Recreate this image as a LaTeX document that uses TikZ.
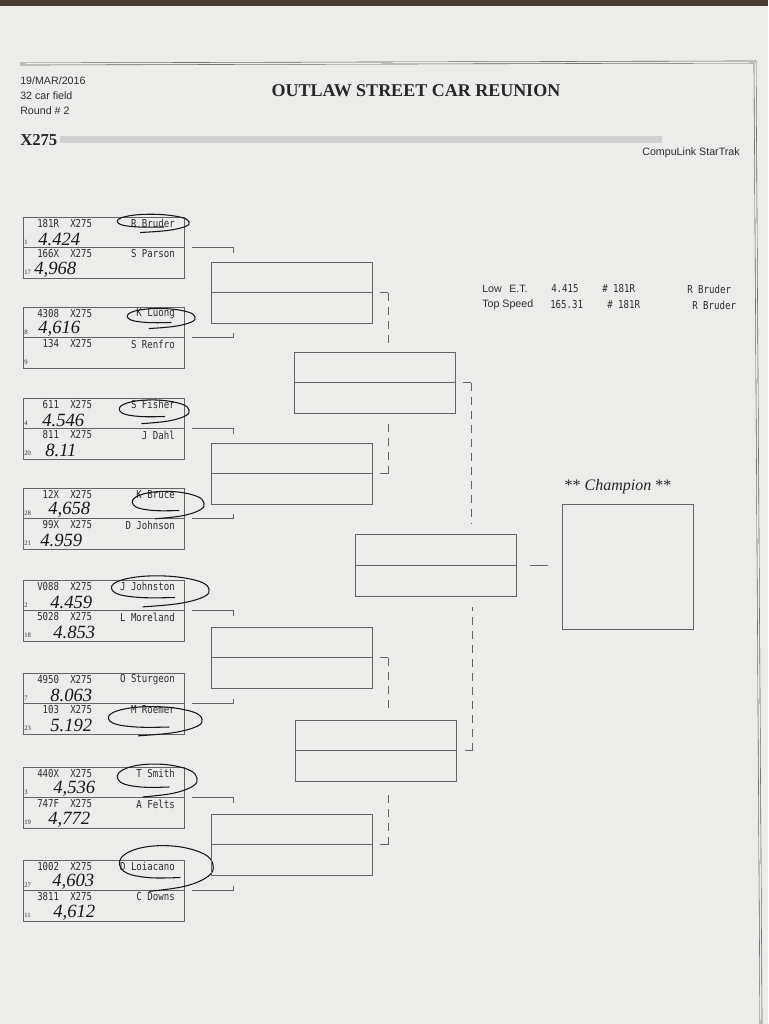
\documentclass[tikz,border=0pt]{standalone}
\usepackage{fontspec}
\setmainfont{Liberation Serif}
\setsansfont{Liberation Sans}
\newfontfamily\printfont[FakeStretch=0.83]{DejaVu Sans Mono}
\usepackage{tikz}
\usetikzlibrary{calc}
\definecolor{PaperGray}{RGB}{236,236,234}
\definecolor{PrintInk}{RGB}{45,45,45}
\definecolor{RuleGray}{RGB}{100,100,100}
\definecolor{PenInk}{RGB}{22,22,28}
\definecolor{Wood}{RGB}{72,58,48}

% one printed line of an entry: id, row top, car, driver, seed, time, time x
\newcommand{\racer}[7]{%
  \node[print,anchor=west] (car#1) at (37,#2+6.5) {#3};
  \node[print,anchor=west] (cls#1) at (70,#2+6.5) {X275};
  \node[print,anchor=east] (drv#1) at (175,#2+6.5) {#4};
  \node[seed] (seed#1) at (24,#2+25) {#5};
  \node[handtime] (et#1) at (#7,#2+22) {#6};
}
% pen loop round a winner
\newcommand{\winloop}[4]{%
  \draw[pen,shift={(#1,#2)},xscale=#3,yscale=#4] plot[smooth,tension=0.65] coordinates
    {(-0.35,1.05) (0.4,0.85) (0.9,0.45) (1.0,0.0) (0.8,-0.45) (0.2,-0.75) (-0.5,-0.7)
     (-0.95,-0.3) (-0.9,0.25) (-0.4,0.5) (0.3,0.5)};
}

\begin{document}
\begin{tikzpicture}[x=0.75pt,y=-0.75pt,
  rule/.style={draw=RuleGray,line width=0.55pt},
  frame/.style={draw=RuleGray,line width=0.45pt,double=PaperGray,double distance=1.1pt},
  dashlink/.style={rule,dash pattern=on 6pt off 4.5pt},
  entrybox/.style={rule,rectangle,inner sep=0pt,outer sep=0pt,anchor=north west,
    minimum width=120.75pt,minimum height=45.75pt},
  champbox/.style={rule,rectangle,inner sep=0pt,outer sep=0pt,anchor=north west,
    minimum width=98.25pt,minimum height=93.75pt},
  hdr/.style={font=\sffamily\fontsize{8}{9}\selectfont,text=PrintInk,inner sep=0pt},
  print/.style={font=\printfont\fontsize{8.2}{9}\selectfont,text=PrintInk,inner sep=0pt},
  seed/.style={font=\rmfamily\fontsize{5}{6}\selectfont,text=PrintInk,inner sep=0pt,anchor=west},
  handtime/.style={font=\rmfamily\itshape\fontsize{14}{14}\selectfont,text=PenInk,inner sep=0pt,anchor=west},
  pen/.style={draw=PenInk,line width=0.8pt,line cap=round,line join=round}]
  \useasboundingbox (0,0) rectangle (768,1024);
  \fill[PaperGray] (0,0) rectangle (768,1024);
  \fill[Wood] (0,0) rectangle (768,6);

  % page frame and header
  \draw[frame] (20,64) -- (755,62) -- (761,1024);
  \node[hdr,anchor=west] (date) at (20,81) {19/MAR/2016};
  \node[hdr,anchor=west] (field) at (20,96) {32 car field};
  \node[hdr,anchor=west] (round) at (20,111) {Round \# 2};
  \node[font=\rmfamily\bfseries\fontsize{13.5}{15}\selectfont,text=black!85] (title) at (416,91) {OUTLAW STREET CAR REUNION};
  \node[font=\rmfamily\bfseries\fontsize{12.5}{14}\selectfont,text=black!85,anchor=west,inner sep=0pt] (class) at (20,140) {X275};
  \fill[black!18] (60,136) rectangle (662,143);
  \node[hdr,anchor=east] (soft) at (740,153) {CompuLink StarTrak};

  % first round
  \node[entrybox] (b1) at (23,217) {};
  \node[entrybox] (b2) at (23,307) {};
  \node[entrybox] (b3) at (23,398) {};
  \node[entrybox] (b4) at (23,488) {};
  \node[entrybox] (b5) at (23,580) {};
  \node[entrybox] (b6) at (23,673) {};
  \node[entrybox] (b7) at (23,767) {};
  \node[entrybox] (b8) at (23,860) {};
  \foreach \b in {b1,b2,b3,b4,b5,b6,b7,b8}
    \draw[rule] (\b.west) -- (\b.east);

  \racer{1a}{217}{181R}{R Bruder}{1}{4.424}{38}
  \racer{1b}{247.5}{166X}{S Parson}{17}{4,968}{34}
  \racer{2a}{307}{4308}{K Luong}{8}{4,616}{38}
  \racer{2b}{337.5}{\phantom{0}134}{S Renfro}{9}{}{40}
  \racer{3a}{398}{\phantom{0}611}{S Fisher}{4}{4.546}{42}
  \racer{3b}{428.5}{\phantom{0}811}{J Dahl}{20}{8.11}{45}
  \racer{4a}{488}{\phantom{0}12X}{K Bruce}{28}{4,658}{48}
  \racer{4b}{518.5}{\phantom{0}99X}{D Johnson}{21}{4.959}{40}
  \racer{5a}{580}{V088}{J Johnston}{2}{4.459}{50}
  \racer{5b}{610.5}{5028}{L Moreland}{18}{4.853}{53}
  \racer{6a}{673}{4950}{O Sturgeon}{7}{8.063}{50}
  \racer{6b}{703.5}{\phantom{0}103}{M Roemer}{23}{5.192}{50}
  \racer{7a}{767}{440X}{T Smith}{3}{4,536}{53}
  \racer{7b}{797.5}{747F}{A Felts}{19}{4,772}{48}
  \racer{8a}{860}{1002}{D Loiacano}{27}{4,603}{52}
  \racer{8b}{890.5}{3811}{C Downs}{11}{4,612}{53}

  % winners circled
  \winloop{153}{222}{36}{10}
  \winloop{161}{317}{34}{11}
  \winloop{154}{410}{35}{13}
  \winloop{168}{503}{36}{15}
  \winloop{160}{589}{49}{17}
  \winloop{155}{719}{47}{16}
  \winloop{157}{778}{40}{18}
  \winloop{166}{865}{47}{25}

  % first round brackets
  \foreach \b in {b1,b3,b5,b7}
    \draw[rule] ($(\b.east)+(8,0)$) -- ++(41,0) -- ++(0,5);
  \foreach \b in {b2,b4,b6,b8}
    \draw[rule] ($(\b.east)+(8,0)$) -- ++(41,0) -- ++(0,-5);

  % second round
  \node[entrybox] (q1) at (211,262) {};
  \node[entrybox] (q2) at (211,443) {};
  \node[entrybox] (q3) at (211,627) {};
  \node[entrybox] (q4) at (211,814) {};
  \foreach \q in {q1,q2,q3,q4}
    \draw[rule] (\q.west) -- (\q.east);
  \foreach \q in {q1,q3} {
    \draw[rule] ($(\q.east)+(8,0)$) -- ++(8,0);
    \draw[dashlink] ($(\q.east)+(16,0)$) -- ++(0,50);
  }
  \foreach \q in {q2,q4} {
    \draw[rule] ($(\q.east)+(8,0)$) -- ++(8,0);
    \draw[dashlink] ($(\q.east)+(16,0)$) -- ++(0,-50);
  }

  % semi finals
  \node[entrybox] (s1) at (294,352) {};
  \node[entrybox] (s2) at (295,720) {};
  \foreach \s in {s1,s2}
    \draw[rule] (\s.west) -- (\s.east);
  \draw[rule] ($(s1.east)+(8,0)$) -- ++(8,0);
  \draw[dashlink] ($(s1.east)+(16,0)$) -- ++(0,141);
  \draw[rule] ($(s2.east)+(9,0)$) -- ++(7,0);
  \draw[dashlink] ($(s2.east)+(16,0)$) -- ++(0,-144);

  % final and champion
  \node[entrybox,minimum height=46.5pt] (fin) at (355,534) {};
  \draw[rule] (fin.west) -- (fin.east);
  \node[champbox] (champ) at (562,504) {};
  \draw[rule] ($(fin.east)+(14,0)$) -- ($(champ.west |- fin.east)+(-14,0)$);
  \node[font=\rmfamily\fontsize{12}{14}\selectfont,text=black!85] (champlbl) at (618,487) {** \textit{Champion} **};

  % records
  \node[hdr,anchor=west] (lowlbl) at (482,289) {Low};
  \node[hdr,anchor=west] (etlbl) at (509,289) {E.T.};
  \node[print,anchor=west] (lowval) at (551,289) {4.415};
  \node[print,anchor=west] (lowcar) at (602,289) {\# 181R};
  \node[print,anchor=west] (lowdrv) at (687,289) {R Bruder};
  \node[hdr,anchor=west] (toplbl) at (482,305) {Top Speed};
  \node[print,anchor=west] (topval) at (550,305) {165.31};
  \node[print,anchor=west] (topcar) at (607,305) {\# 181R};
  \node[print,anchor=west] (topdrv) at (692,305) {R Bruder};
\end{tikzpicture}
\end{document}
